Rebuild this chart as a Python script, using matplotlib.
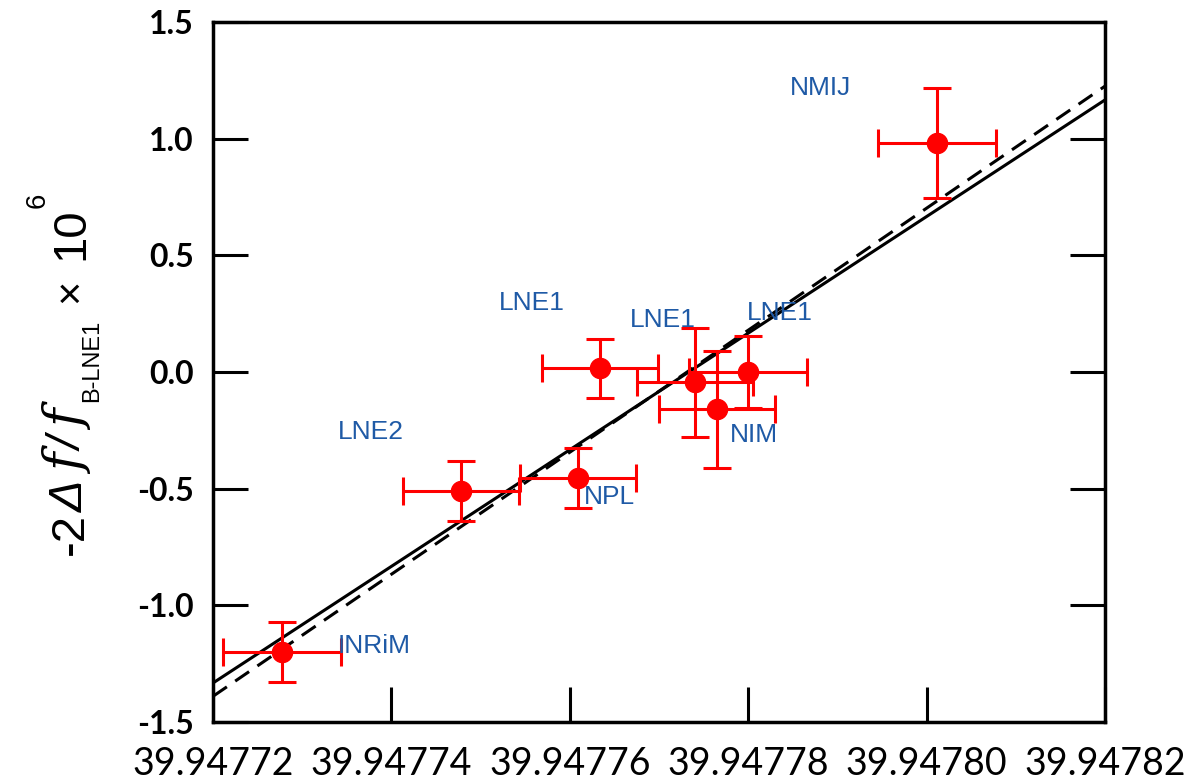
import numpy as np
import matplotlib
matplotlib.use("Agg")
import matplotlib.pyplot as plt
from matplotlib.transforms import IdentityTransform

# lattice frequency vs normalised frequency shift, one point per lab
labs = ['INRiM', 'LNE2', 'NPL', 'LNE1', 'LNE1', 'NIM', 'LNE1', 'NMIJ']
x = [39.9477277, 39.9477478, 39.9477609, 39.9477634, 39.9477740, 39.9477765, 39.9477800, 39.9478012]
y = [-1.20, -0.51, -0.455, 0.015, -0.045, -0.16, 0.00, 0.98]
x_err = [0.0000066, 0.0000065, 0.0000065, 0.0000065, 0.0000065, 0.0000065, 0.0000066, 0.0000066]
y_err = [0.127, 0.127, 0.128, 0.125, 0.235, 0.25, 0.155, 0.235]

# label anchor positions (data coords, left edge / vertical centre)
label_x = [39.9477340, 39.9477340, 39.9477616, 39.9477520, 39.9477667, 39.9477780, 39.9477799, 39.9477847]
label_y = [-1.174, -0.257, -0.536, 0.296, 0.223, -0.27, 0.253, 1.217]

# linear fits: solid and dashed
x_fit = [39.94772, 39.94782]
y_fit_solid = [-1.333, 1.166]
y_fit_dashed = [-1.39, 1.225]

xticks = [39.94772, 39.94774, 39.94776, 39.94778, 39.94780, 39.94782]
yticks = [-1.5, -1.0, -0.5, 0.0, 0.5, 1.0, 1.5]

fig = plt.figure(figsize=(11.86, 7.8), dpi=100)
ax = fig.add_axes([0.1796, 0.0744, 0.9317 - 0.1796, 0.9718 - 0.0744])

ax.plot(x_fit, y_fit_solid, color='black', lw=2.2, zorder=2)
ax.plot(x_fit, y_fit_dashed, color='black', lw=2.2, ls=(0, (5.5, 3.3)), zorder=2)

ax.errorbar(x, y, xerr=x_err, yerr=y_err, fmt='o', color='#ff0000', ms=14.5,
            elinewidth=2.2, capsize=10, capthick=2.2, zorder=3)

for lab, lx, ly in zip(labs, label_x, label_y):
    ax.text(lx, ly, lab, color='#1f5aa6', fontsize=19, family='Liberation Sans',
            ha='left', va='center', zorder=4)

ax.set_xlim(xticks[0], xticks[-1])
ax.set_ylim(yticks[0], yticks[-1])
ax.set_xticks(xticks)
ax.set_xticklabels(['%.5f' % v for v in xticks], family='Lato', fontsize=27)
ax.set_yticks(yticks)
ax.set_yticklabels(['%.1f' % v for v in yticks], family='Lato', fontsize=23,
                   fontweight='bold')

ax.tick_params(direction='in', length=25, width=2.2, right=True)
ax.tick_params(axis='x', pad=17)
ax.tick_params(axis='y', pad=14)
for sp in ax.spines.values():
    sp.set_linewidth(2.5)

# y label built from pieces, rotated, written bottom-to-top
# (text, fontsize, family, style, baseline x px, start y px from top)
pieces = [
    ('-2', 34, 'Liberation Sans', 'normal', 83, 555),
    ('\u0394', 34, 'Liberation Sans', 'italic', 83, 512),
    ('f', 36, 'DejaVu Serif', 'italic', 83, 474),
    ('/', 34, 'Liberation Sans', 'italic', 83, 451),
    ('f', 36, 'DejaVu Serif', 'italic', 83, 430),
    ('B-LNE1', 17, 'Liberation Sans', 'normal', 98, 402),
    ('\u00d7', 30, 'Liberation Sans', 'normal', 83, 303),
    ('10', 34, 'Liberation Sans', 'normal', 83, 260),
    ('6', 20, 'Liberation Sans', 'normal', 45, 208),
]
for s, size, fam, style, bx, by in pieces:
    fig.text(bx, 780 - by, s, transform=IdentityTransform(), rotation=90,
             rotation_mode='anchor', ha='left', va='baseline',
             fontsize=size, fontstyle=style, family=fam)

fig.savefig('out.png', dpi=100)
